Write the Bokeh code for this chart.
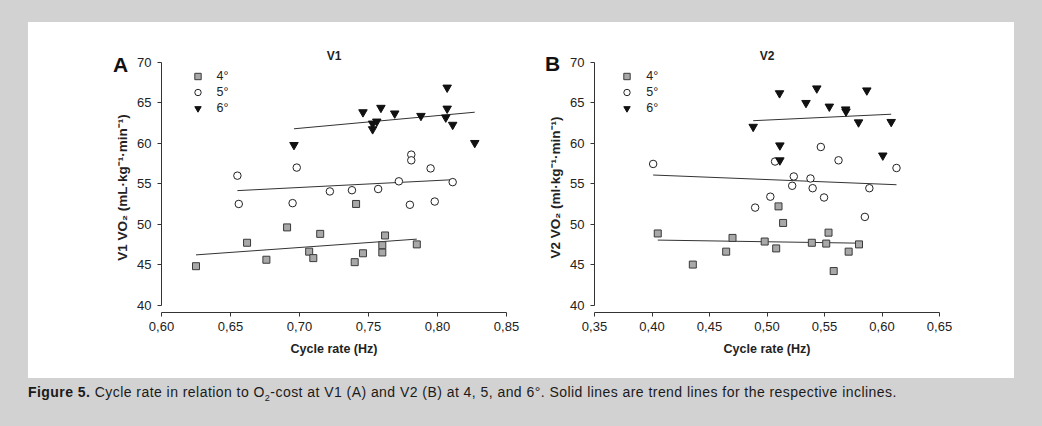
from bokeh.plotting import figure
from bokeh.models import (Range1d, FixedTicker, CustomJSTickFormatter, Legend,
                          LegendItem, Div)
from bokeh.layouts import row, column
from bokeh.embed import file_html
from bokeh.resources import INLINE

FONT = "Liberation Sans"

# ---------------- data ----------------
incline_labels = ["4°", "5°", "6°"]
y_ticks = [40, 45, 50, 55, 60, 65, 70]
panel_letters = ["A", "B"]

# Panel A : V1
a_title = "V1"
a_ylabel = "V1 VO₂ (mL·kg⁻¹·min⁻¹)"
a_xticks = [0.60, 0.65, 0.70, 0.75, 0.80, 0.85]
a4_x = [0.625, 0.662, 0.676, 0.691, 0.707, 0.710, 0.715, 0.740, 0.741, 0.746, 0.760, 0.760, 0.762, 0.785]
a4_y = [44.8, 47.7, 45.6, 49.6, 46.6, 45.8, 48.8, 45.3, 52.5, 46.4, 46.5, 47.4, 48.6, 47.5]
a5_x = [0.655, 0.656, 0.695, 0.698, 0.722, 0.738, 0.757, 0.772, 0.780, 0.781, 0.781, 0.795, 0.798, 0.811]
a5_y = [56.0, 52.5, 52.6, 57.0, 54.05, 54.2, 54.35, 55.3, 52.4, 58.6, 57.9, 56.9, 52.8, 55.2]
a6_x = [0.696, 0.746, 0.753, 0.753, 0.756, 0.759, 0.769, 0.788, 0.806, 0.807, 0.807, 0.811, 0.827]
a6_y = [59.8, 63.85, 62.45, 61.75, 62.7, 64.4, 63.7, 63.4, 63.2, 66.9, 64.3, 62.3, 60.05]
a_trend4 = [46.2, 48.15]
a_trend5 = [54.15, 55.5]
a_trend6 = [61.8, 63.85]

# Panel B : V2
b_title = "V2"
b_ylabel = "V2 VO₂ (ml·kg⁻¹·min⁻¹)"
b_xticks = [0.35, 0.40, 0.45, 0.50, 0.55, 0.60, 0.65]
b4_x = [0.405, 0.4355, 0.4645, 0.470, 0.498, 0.508, 0.510, 0.514, 0.539, 0.5515, 0.5535, 0.558, 0.571, 0.580]
b4_y = [48.85, 45.0, 46.6, 48.3, 47.85, 47.0, 52.2, 50.15, 47.7, 47.6, 48.95, 44.2, 46.6, 47.5]
b5_x = [0.401, 0.4897, 0.5029, 0.507, 0.5219, 0.5233, 0.5378, 0.5397, 0.5468, 0.5496, 0.5622, 0.5851, 0.589, 0.6126]
b5_y = [57.45, 52.05, 53.4, 57.75, 54.75, 55.9, 55.65, 54.45, 59.55, 53.3, 57.9, 50.9, 54.45, 56.95]
b6_x = [0.488, 0.5109, 0.5112, 0.5112, 0.5339, 0.5433, 0.5542, 0.5684, 0.5687, 0.5796, 0.5868, 0.6007, 0.608]
b6_y = [62.05, 66.2, 59.75, 57.9, 65.0, 66.8, 64.55, 64.2, 63.95, 62.6, 66.55, 58.5, 62.65]
b_trend4 = [48.03, 47.65]
b_trend5 = [56.08, 54.88]
b_trend6 = [62.8, 63.6]

caption_html = ('<b>Figure 5.</b> Cycle rate in relation to O<sub style="font-size:9px">2</sub>-cost at V1 (A) '
                'and V2 (B) at 4, 5, and 6°. Solid lines are trend lines for the respective inclines.')

# ---------------- styling ----------------
FIG_H = 356
FRAME_W = 345
FRAME_H = 250
TOP, BOTTOM = 40, 66
Y_TOP = 70
Y_BOTTOM = 40 - 7.5 * 30 / 242.5   # 40 sits 7.5 px above the frame bottom

styles = [
    dict(marker="square", size=7, fill_color="#a8a8a8", line_color="#3a3a3a", line_width=1),
    dict(marker="circle", size=7.5, fill_color="white", line_color="#222222", line_width=1),
    dict(marker="inverted_triangle", size=8.5, fill_color="#111111", line_color="#111111", line_width=1),
]


def make_panel(width, left, xr, xticks, groups, trends, title, ylabel, leg_x):
    p = figure(width=width, height=FIG_H, x_range=Range1d(*xr),
               y_range=Range1d(Y_BOTTOM, Y_TOP), output_backend="svg",
               toolbar_location=None, min_border_left=left,
               min_border_right=width - left - FRAME_W,
               min_border_top=TOP, min_border_bottom=BOTTOM, title=title)
    p.background_fill_color = "white"
    p.border_fill_color = "white"
    p.outline_line_color = None
    p.xgrid.visible = False
    p.ygrid.visible = False

    p.title.align = "center"
    p.title.text_font = FONT
    p.title.text_font_size = "12px"
    p.title.text_font_style = "bold"
    p.title.text_color = "#222222"
    p.title.standoff = 0

    for ax in (p.xaxis[0], p.yaxis[0]):
        ax.axis_line_color = "#333333"
        ax.major_tick_line_color = "#333333"
        ax.minor_tick_line_color = None
        ax.major_tick_out = 4
        ax.major_tick_in = 0
        ax.major_label_text_font = FONT
        ax.major_label_text_font_size = "13px"
        ax.major_label_text_color = "#222222"
        ax.axis_label_text_font = FONT
        ax.axis_label_text_font_style = "bold"
        ax.axis_label_text_color = "#222222"

    p.xaxis.ticker = FixedTicker(ticks=xticks)
    p.xaxis.formatter = CustomJSTickFormatter(code="return tick.toFixed(2).replace('.', ',');")
    p.xaxis.axis_label = "Cycle rate (Hz)"
    p.xaxis.axis_label_text_font_size = "12.5px"
    p.xaxis.major_label_standoff = 5
    p.xaxis.axis_label_standoff = 8

    p.yaxis.ticker = FixedTicker(ticks=y_ticks)
    p.yaxis.bounds = (40, 70)
    p.yaxis.axis_label = ylabel
    p.yaxis.axis_label_text_font_size = "13.5px"
    p.yaxis.major_label_standoff = 6
    p.yaxis.axis_label_standoff = 4

    items = []
    for (gx, gy), ty, st, lab in zip(groups, trends, styles, incline_labels):
        p.line([min(gx), max(gx)], ty, line_color="#333333", line_width=1)
        r = p.scatter(gx, gy, **st)
        items.append(LegendItem(label=lab, renderers=[r]))

    # legend: 3 rows of 16 px, top edge 6 px below the frame top
    leg = Legend(items=items, location=(leg_x, FRAME_H - 6 - 48), margin=0, padding=0,
                 spacing=0, glyph_width=39, glyph_height=16, label_height=16,
                 label_standoff=0, label_text_font=FONT,
                 label_text_font_size="12.5px", label_text_color="#222222",
                 border_line_color=None, background_fill_alpha=0)
    p.add_layout(leg)
    return p


pA = make_panel(494, 133, (0.60, 0.85), a_xticks,
                [(a4_x, a4_y), (a5_x, a5_y), (a6_x, a6_y)],
                [a_trend4, a_trend5, a_trend6], a_title, a_ylabel, 16.5)
pB = make_panel(492, 72, (0.35, 0.65), b_xticks,
                [(b4_x, b4_y), (b5_x, b5_y), (b6_x, b6_y)],
                [b_trend4, b_trend5, b_trend6], b_title, b_ylabel, 13.2)

panels = row(pA, pB, margin=(22, 0, 0, 28), spacing=0,
             styles={"background-color": "white"})

cap = Div(text=caption_html, width=1000, height=18, margin=(6, 0, 0, 28),
          styles={"font-family": FONT, "font-size": "14px", "color": "#1a1a1a",
                  "white-space": "nowrap", "line-height": "16px", "letter-spacing": "0.45px"})

# panel letters "A" and "B", overlaid on the panels' top-left corners
letter_style = ("position:absolute; font-family:'Liberation Sans'; font-size:21px; "
                "font-weight:bold; line-height:21px; color:#111111;")
letters_html = (f'<span style="{letter_style} left:113px; top:4px;">{panel_letters[0]}</span>'
                f'<span style="{letter_style} left:545px; top:3px;">{panel_letters[1]}</span>')
letters = Div(text=letters_html, width=700, height=30, margin=(-352, 0, 0, 0),
              styles={"position": "relative"})

page = column(panels, cap, letters, spacing=0)

html = file_html(page, INLINE, title="Figure 5")
css = "<style>html, body { margin: 0 !important; padding: 0; background-color: #d2d2d2 !important; }</style>"
idx = html.rfind("</head>")
if idx != -1:
    html = html[:idx] + css + html[idx:]
open("out.html", "w").write(html)
